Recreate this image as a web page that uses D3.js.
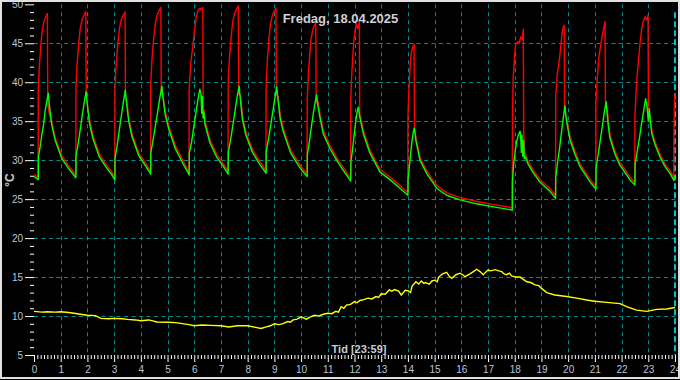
<!DOCTYPE html>
<html><head><meta charset="utf-8">
<script src="https://cdn.jsdelivr.net/npm/d3@7"></script>
<style>html,body{margin:0;padding:0;background:#000;overflow:hidden}</style>
</head><body>
<svg id="c" width="680" height="380"></svg>
<script>
const titleText = "Fredag, 18.04.2025";
const xTitleText = "Tid [23:59]";
const yTitleText = "°C";
const xTicks = [0,1,2,3,4,5,6,7,8,9,10,11,12,13,14,15,16,17,18,19,20,21,22,23,24];
const yTicks = [5,10,15,20,25,30,35,40,45,50];

// Flow temperature (red) [hour, °C]
const redPoints = [
[0,28.2],[0.1,27.9],[0.155,27.9],
[0.16,39.0],[0.20,42.0],[0.26,45.0],[0.31,46.7],[0.37,47.8],[0.44,48.4],[0.50,48.8],[0.515,37.6],[0.56,36.2],[0.67,34.8],[0.80,32.8],[1.05,30.5],[1.29,29.3],[1.565,28.1],
[1.57,39.2],[1.61,42.2],[1.68,45.2],[1.73,46.9],[1.80,48.0],[1.87,48.6],[1.94,49.05],[1.955,37.8],[1.99,37.5],[2.085,35.1],[2.21,33.1],[2.46,30.7],[2.71,29.4],[2.91,28.5],[3.025,27.8],
[3.03,39.2],[3.075,42.2],[3.145,45.2],[3.20,46.9],[3.265,48.0],[3.34,48.6],[3.41,49.0],[3.425,38.0],[3.47,37.8],[3.555,35.3],[3.68,33.3],[3.93,30.9],[4.18,29.6],[4.365,28.55],
[4.37,39.8],[4.415,42.8],[4.485,45.8],[4.54,47.5],[4.605,48.6],[4.68,49.2],[4.75,49.6],[4.765,38.5],[4.83,38.3],[4.925,36.1],[5.055,34.3],[5.30,31.8],[5.55,30.1],[5.805,28.45],
[5.81,39.3],[5.87,42.5],[5.96,45.0],[6.02,47.0],[6.08,48.5],[6.15,49.3],[6.21,49.5],[6.26,49.3],[6.32,49.6],[6.335,36.5],[6.37,36.4],[6.41,34.9],[6.46,34.3],[6.60,32.5],[6.85,30.7],[7.10,29.5],[7.265,28.55],
[7.27,40.0],[7.315,43.0],[7.385,46.0],[7.44,47.7],[7.505,48.8],[7.58,49.4],[7.65,49.8],[7.665,38.5],[7.73,38.3],[7.815,35.5],[7.945,33.5],[8.19,31.3],[8.44,29.9],[8.685,28.65],
[8.69,39.7],[8.735,42.7],[8.80,45.7],[8.85,47.4],[8.92,48.5],[8.99,49.1],[9.06,49.5],[9.075,38.4],[9.14,38.2],[9.225,35.7],[9.34,34.0],[9.61,31.3],[9.86,29.9],[10.06,28.9],[10.225,28.25],
[10.23,37.8],[10.27,40.8],[10.33,43.8],[10.37,45.5],[10.43,46.6],[10.49,47.2],[10.55,47.6],[10.565,37.4],[10.63,37.5],[10.71,35.9],[10.84,33.7],[11.09,31.8],[11.34,30.3],[11.59,29.0],[11.855,27.65],
[11.86,37.6],[11.89,40.6],[11.94,43.6],[11.98,45.5],[12.03,46.8],[12.07,47.5],[12.11,46.9],[12.14,47.0],[12.18,47.8],[12.195,36.0],[12.21,35.8],[12.34,33.7],[12.59,31.2],[12.96,28.8],[13.34,27.8],[13.71,26.7],[13.995,25.85],
[14.0,35.5],[14.03,38.5],[14.07,41.2],[14.10,43.0],[14.14,44.0],[14.19,44.6],[14.23,44.9],[14.245,34.0],[14.31,32.8],[14.46,30.3],[14.71,28.6],[15.09,26.7],[15.46,25.8],[15.96,25.2],[16.58,24.7],[17.21,24.3],[17.905,23.9],
[17.915,35.7],[17.94,40.3],[17.97,42.0],[18.0,43.7],[18.04,45.0],[18.12,45.2],[18.17,45.0],[18.22,45.8],[18.27,45.5],[18.32,46.8],[18.335,33.5],[18.37,31.0],[18.41,30.7],[18.51,29.8],[18.70,28.7],[18.95,27.5],[19.33,26.3],[19.525,25.45],
[19.535,38.2],[19.59,41.0],[19.66,42.6],[19.72,44.5],[19.77,46.2],[19.82,47.1],[19.85,47.3],[19.865,36.4],[19.93,35.6],[19.99,34.5],[20.08,32.9],[20.26,31.1],[20.45,29.5],[20.83,27.5],[21.035,26.65],
[21.04,37.7],[21.09,40.5],[21.15,43.3],[21.23,45.0],[21.29,46.2],[21.34,47.1],[21.38,47.8],[21.395,37.5],[21.47,36.3],[21.51,34.8],[21.57,33.2],[21.76,31.1],[21.94,29.7],[22.32,27.8],[22.495,27.15],
[22.5,35.6],[22.56,39.9],[22.62,42.3],[22.69,45.0],[22.75,46.8],[22.81,47.8],[22.88,48.4],[22.94,48.0],[22.99,48.6],[23.005,36.2],[23.05,36.0],[23.09,35.0],[23.14,33.7],[23.26,32.3],[23.45,30.7],[23.63,29.5],[23.82,28.6],[23.955,27.75],
[23.96,33.0],[23.98,37.5],[24.0,38.5]
];

// Return temperature (green) [hour, °C]
const greenPoints = [
[0,27.9],[0.16,27.5],
[0.165,30.4],[0.23,31.7],[0.30,33.4],[0.36,34.6],[0.42,36.4],[0.48,37.6],[0.535,38.6],
[0.575,37.1],[0.66,34.6],[0.79,32.6],[1.04,30.2],[1.28,29.0],[1.57,27.75],
[1.575,30.6],[1.65,32.0],[1.73,33.9],[1.81,35.8],[1.88,37.4],[1.95,38.8],
[1.99,37.3],[2.075,34.8],[2.2,32.8],[2.45,30.4],[2.7,29.1],[2.9,28.2],[3.03,27.45],
[3.035,30.3],[3.11,31.8],[3.19,33.8],[3.27,35.7],[3.35,37.5],[3.42,39.0],
[3.46,37.5],[3.545,35.0],[3.67,33.0],[3.92,30.6],[4.17,29.3],[4.37,28.2],
[4.375,31.0],[4.45,32.4],[4.54,34.3],[4.63,36.2],[4.71,38.0],[4.79,39.5],
[4.83,38.0],[4.915,35.8],[5.045,34.0],[5.29,31.5],[5.54,29.8],[5.81,28.1],
[5.815,30.9],[5.9,32.3],[5.98,34.2],[6.06,36.0],[6.14,37.8],[6.21,39.1],
[6.25,38.6],[6.28,36.0],[6.30,38.2],[6.33,35.4],[6.36,36.2],[6.40,34.6],[6.45,34.0],[6.59,32.2],[6.84,30.4],[7.09,29.2],[7.27,28.2],
[7.275,31.0],[7.35,32.4],[7.44,34.3],[7.52,36.2],[7.60,38.0],[7.68,39.5],
[7.72,38.0],[7.805,35.2],[7.935,33.2],[8.18,31.0],[8.43,29.6],[8.69,28.3],
[8.695,31.1],[8.77,32.5],[8.86,34.4],[8.94,36.2],[9.02,38.0],[9.09,39.4],
[9.13,37.9],[9.215,35.4],[9.33,33.7],[9.6,31.0],[9.85,29.6],[10.05,28.6],[10.23,27.9],
[10.235,30.7],[10.30,32.1],[10.37,33.9],[10.44,35.6],[10.51,37.1],[10.58,38.4],
[10.62,37.2],[10.7,35.6],[10.83,33.4],[11.08,31.5],[11.33,30.0],[11.58,28.7],[11.86,27.3],
[11.865,29.8],[11.92,31.2],[11.98,33.0],[12.04,34.8],[12.10,36.2],[12.14,36.8],
[12.2,35.5],[12.33,33.4],[12.58,30.9],[12.95,28.5],[13.33,27.5],[13.70,26.4],[14.0,25.5],
[14.005,27.5],[14.05,29.0],[14.10,30.8],[14.15,32.4],[14.20,33.6],[14.24,34.1],
[14.3,32.5],[14.45,30.0],[14.7,28.3],[15.08,26.4],[15.45,25.5],[15.95,24.9],[16.57,24.4],[17.2,24.0],[17.91,23.6],
[17.915,27.4],[17.96,29.5],[18.02,31.3],[18.08,32.5],[18.14,33.3],[18.2,33.7],
[18.22,33.0],[18.25,31.0],[18.27,33.2],[18.30,30.5],[18.33,32.5],[18.36,30.2],[18.40,30.4],[18.5,29.5],[18.69,28.4],[18.94,27.2],[19.32,26.0],[19.53,25.1],
[19.535,27.8],[19.60,29.6],[19.68,31.6],[19.75,33.6],[19.82,35.5],[19.88,37.0],
[19.92,35.5],[19.98,34.2],[20.07,32.6],[20.25,30.8],[20.44,29.2],[20.82,27.2],[21.04,26.3],
[21.045,28.9],[21.12,30.6],[21.20,32.5],[21.28,34.4],[21.35,36.1],[21.42,37.5],
[21.46,36.0],[21.5,34.5],[21.56,32.9],[21.75,30.8],[21.93,29.4],[22.31,27.5],[22.5,26.8],
[22.505,29.4],[22.58,31.0],[22.67,32.9],[22.75,34.7],[22.83,36.4],[22.9,37.9],
[22.95,37.0],[23.0,35.0],[23.04,36.6],[23.08,34.8],[23.13,33.4],[23.25,32.0],[23.44,30.4],[23.62,29.2],[23.81,28.3],[23.96,27.4],
[24.0,28.0]
];

// Outdoor temperature (yellow) [hour, °C]
const yellowPoints = [
[0,10.6],[0.3,10.5],[0.5,10.55],[0.8,10.5],[1.0,10.55],[1.3,10.45],[1.5,10.35],[1.8,10.2],[2.0,10.1],[2.3,10.05],[2.5,9.7],[2.8,9.65],[3.0,9.7],[3.3,9.65],[3.5,9.57],[3.8,9.5],[4.0,9.4],[4.3,9.5],[4.6,9.23],[5.0,9.2],[5.3,9.15],[5.5,9.06],[5.8,8.9],[6.0,8.76],[6.3,8.85],[6.6,8.8],[7.0,8.75],[7.3,8.6],[7.6,8.75],[8.0,8.75],[8.3,8.55],[8.5,8.4],[8.7,8.6],[8.85,8.75],[9.0,9.0],[9.15,8.9],[9.3,9.0],[9.5,9.3],[9.6,9.2],[9.7,9.5],[9.85,9.6],[10.0,9.9],[10.2,9.6],[10.35,9.9],[10.5,10.1],[10.65,10.0],[10.8,10.2],[11.0,10.35],[11.15,10.3],[11.3,10.6],[11.4,10.5],[11.5,11.2],[11.6,11.0],[11.7,11.4],[11.85,11.5],[12.0,11.85],[12.1,11.7],[12.2,12.0],[12.35,12.1],[12.5,12.3],[12.65,12.2],[12.8,12.5],[12.9,12.4],[13.0,12.85],[13.15,12.8],[13.3,13.35],[13.4,13.2],[13.5,13.4],[13.65,13.2],[13.75,12.7],[13.8,12.9],[13.9,13.3],[14.0,13.25],[14.1,13.0],[14.15,13.8],[14.3,14.4],[14.4,14.1],[14.5,14.5],[14.6,14.2],[14.65,14.3],[14.8,14.1],[14.9,14.5],[15.0,14.6],[15.1,14.4],[15.15,15.0],[15.3,15.4],[15.45,15.6],[15.55,15.1],[15.64,14.85],[15.8,15.3],[15.95,15.5],[16.05,15.3],[16.14,15.05],[16.32,15.4],[16.45,15.7],[16.57,16.0],[16.7,15.7],[16.82,15.3],[16.9,15.6],[17.0,15.9],[17.1,15.8],[17.26,15.95],[17.4,15.8],[17.51,15.7],[17.6,15.4],[17.7,15.3],[17.8,15.5],[17.88,15.15],[18.05,15.0],[18.2,15.0],[18.45,14.4],[18.6,14.3],[18.76,14.0],[18.9,13.9],[19.0,13.55],[19.2,13.0],[19.5,12.7],[19.94,12.5],[20.32,12.3],[20.69,12.05],[21.0,11.9],[21.44,11.75],[21.94,11.6],[22.19,11.2],[22.56,10.75],[22.94,10.6],[23.31,10.85],[23.69,10.9],[24.0,11.1]
];

const W = 680, H = 380;
const svg = d3.select("#c");
const font = "Arial, 'Liberation Sans', sans-serif";

svg.append("rect").attr("x",0).attr("y",0).attr("width",W).attr("height",H).attr("fill","#000");

const x = d3.scaleLinear().domain([0,24]).range([34,675]);
const y = d3.scaleLinear().domain([5,50]).range([355,4.3]);

// grid
const grid = svg.append("g");
grid.selectAll("line.h").data(yTicks.filter(v => v > 5 && v < 50)).join("line")
  .attr("x1", x(0)).attr("x2", x(24))
  .attr("y1", d => Math.round(y(d)) + 0.5).attr("y2", d => Math.round(y(d)) + 0.5)
  .attr("stroke", "#008c8c").attr("stroke-width", 1).attr("stroke-dasharray", "4,3.5");
grid.selectAll("line.v").data(xTicks.filter(v => v > 0 && v < 24)).join("line")
  .attr("x1", d => Math.round(x(d)) + 0.5).attr("x2", d => Math.round(x(d)) + 0.5)
  .attr("y1", y(50)).attr("y2", y(5))
  .attr("stroke", "#008c8c").attr("stroke-width", 1).attr("stroke-dasharray", "4,4");
// current-time marker at 24
grid.append("line")
  .attr("x1", x(24)).attr("x2", x(24)).attr("y1", y(50) + 8).attr("y2", y(5))
  .attr("stroke", "#00ffff").attr("stroke-width", 1.5).attr("stroke-dasharray", "6,3");

// axes
const minorX = [];
xTicks.slice(0, -1).forEach(h => { for (let k = 1; k < 8; k++) minorX.push(h + k / 8); });
const minorY = [];
for (let v = 6; v < 50; v++) if (v % 5 !== 0) minorY.push(v);

function styleAxis(g) {
  g.select(".domain").remove();
  g.selectAll(".tick line").attr("stroke", "#ffffff").attr("stroke-width", 1);
  g.selectAll(".tick text").attr("fill", "#bcc6d6").style("font-family", font).style("font-size", "10px");
}

svg.append("g").attr("transform", `translate(0,${y(5)})`)
  .call(d3.axisBottom(x).tickValues(minorX).tickSize(4).tickFormat(""))
  .call(styleAxis);
svg.append("g").attr("transform", `translate(0,${y(5)})`)
  .call(d3.axisBottom(x).tickValues(xTicks).tickSize(7).tickPadding(4).tickFormat(d3.format("d")))
  .call(styleAxis);
svg.append("g").attr("transform", `translate(${x(0)},0)`)
  .call(d3.axisLeft(y).tickValues(minorY).tickSize(4).tickFormat(""))
  .call(styleAxis);
svg.append("g").attr("transform", `translate(${x(0)},0)`)
  .call(d3.axisLeft(y).tickValues(yTicks).tickSize(9).tickPadding(2).tickFormat(d3.format("d")))
  .call(styleAxis);

// lines
const line = d3.line().x(d => x(d[0])).y(d => y(d[1]));
svg.append("path").datum(yellowPoints).attr("d", line)
  .attr("fill","none").attr("stroke","#ffff00").attr("stroke-width",1.4);
svg.append("path").datum(redPoints).attr("d", line)
  .attr("fill","none").attr("stroke","#ff0000").attr("stroke-width",1.4).attr("stroke-linejoin","round");
svg.append("path").datum(greenPoints).attr("d", line)
  .attr("fill","none").attr("stroke","#00ff00").attr("stroke-width",1.4).attr("stroke-linejoin","round");

// texts
svg.append("text").attr("x", 340.5).attr("y", 22.5).attr("text-anchor","middle")
  .attr("fill","#d0d0d8").style("font-family", font).style("font-size","13px").style("font-weight","bold")
  .text(titleText);
svg.append("text").attr("x", 359).attr("y", 353).attr("text-anchor","middle")
  .attr("fill","#c8ccd8").style("font-family", font).style("font-size","11px").style("font-weight","bold")
  .text(xTitleText);
svg.append("text").attr("transform","translate(14,180) rotate(-90)").attr("text-anchor","middle")
  .attr("fill","#c8ccd8").style("font-family", font).style("font-size","12px").style("font-weight","bold")
  .text(yTitleText);

// frame
svg.append("rect").attr("x",1).attr("y",1).attr("width",W-2).attr("height",H-3)
  .attr("fill","none").attr("stroke","#e0e0e0").attr("stroke-width",2);
</script>
</body></html>
